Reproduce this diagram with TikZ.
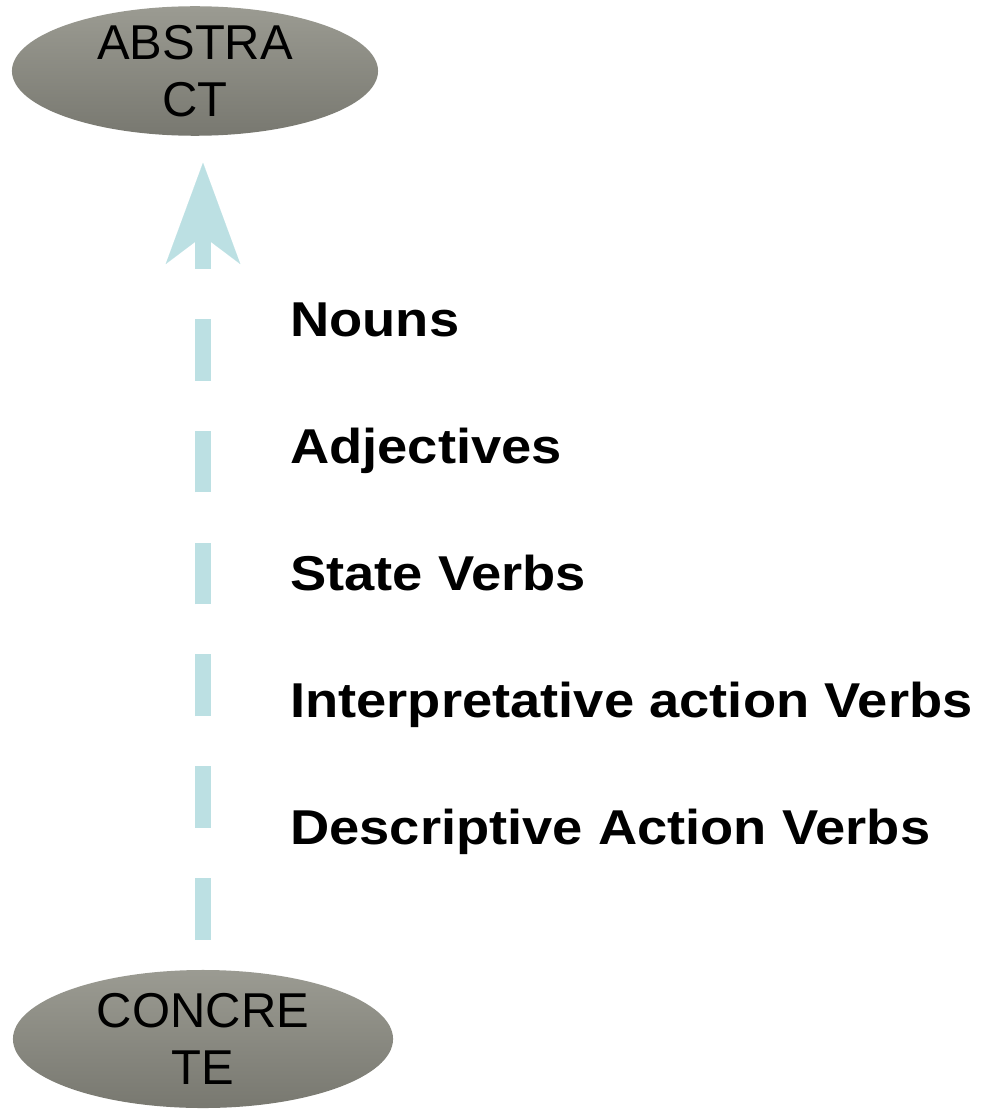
\documentclass[tikz,border=0pt]{standalone}
\usepackage{fontspec}
\setmainfont{Liberation Sans}
\newfontfamily\lblfont{Liberation Sans}[FakeStretch=1.11]
\usetikzlibrary{arrows.meta,shapes.geometric}
\definecolor{flow}{RGB}{188,224,227}
\definecolor{ovtop}{RGB}{155,155,146}
\definecolor{ovbot}{RGB}{120,120,112}
\tikzset{
  oval/.style={ellipse,inner sep=0pt,top color=ovtop,bottom color=ovbot,align=center,
    font=\fontsize{34.8}{40.5}\selectfont},
  lbl/.style={anchor=base west,inner sep=0pt,font=\lblfont\bfseries\fontsize{34.8}{40}\selectfont},
  flowline/.style={draw=flow,line width=12pt,dash pattern=on 44pt off 35.6pt,
    -{Stealth[length=72pt,width=53pt,inset=20pt,line width=0.01pt]}}
}

\begin{document}
\begin{tikzpicture}[x=0.025cm,y=-0.025cm]
  \useasboundingbox (0,0) rectangle (987,1110);
  \node[oval,minimum width=9.15cm,minimum height=3.2cm] (ab) at (195,71) {ABSTRA\\CT};
  \node[oval,minimum width=9.5cm,minimum height=3.45cm] (cc) at (203,1039) {CONCRE\\TE};
  \draw[flowline,shorten <=21pt,shorten >=19pt] (cc.north) -- (ab.south -| cc.north);
  \foreach \txt [count=\i] in {Nouns,Adjectives,State Verbs,Interpretative action Verbs,Descriptive Action Verbs}
    \node[lbl] (w\i) at (290,{209+127*\i}) {\txt};
\end{tikzpicture}
\end{document}
